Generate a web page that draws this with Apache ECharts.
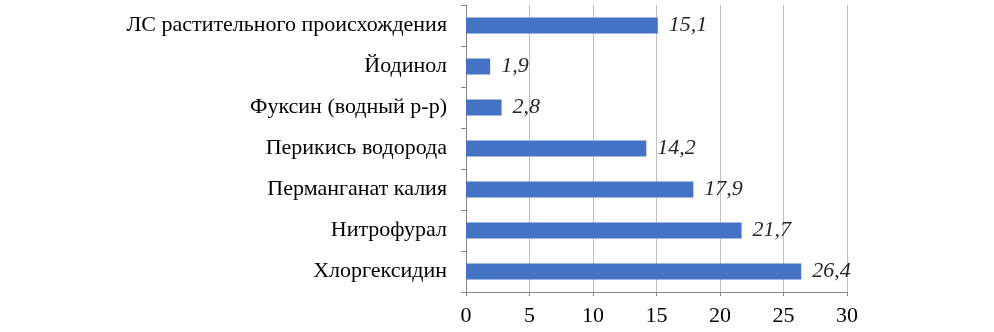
<!DOCTYPE html>
<html><head><meta charset="utf-8">
<script src="https://cdn.jsdelivr.net/npm/echarts@6/dist/echarts.min.js"></script>
<style>html,body{margin:0;padding:0;background:#fff}#c{width:994px;height:332px}</style>
</head><body><div id="c"></div>
<script>
const categories = ['Хлоргексидин','Нитрофурал','Перманганат калия','Перикись водорода','Фуксин (водный р-р)','Йодинол','ЛС растительного происхождения'];
const values = [26.4, 21.7, 17.9, 14.2, 2.8, 1.9, 15.1];
const xTicks = [0,5,10,15,20,25,30];
const chart = echarts.init(document.getElementById('c'), null, {renderer:'canvas'});
chart.setOption({
  animation:false,
  grid:{left:466,right:147,top:5,bottom:40,containLabel:false},
  xAxis:{type:'value',min:0,max:30,interval:5,
    axisLine:{show:true,lineStyle:{color:'#868686',width:1}},
    axisTick:{show:true,length:4,lineStyle:{color:'#868686'}},
    splitLine:{show:true,lineStyle:{color:'#bfbfbf',width:1}},
    axisLabel:{color:'#000',fontFamily:'Liberation Serif',fontSize:22,margin:13,
      formatter:v=>xTicks.includes(v)?String(v):''}},
  yAxis:{type:'category',data:categories,
    axisLine:{show:true,lineStyle:{color:'#868686',width:1}},
    axisTick:{show:true,length:5,lineStyle:{color:'#868686'}},
    axisLabel:{color:'#000',fontFamily:'Liberation Serif',fontSize:22,margin:19}},
  series:[{type:'bar',data:values,barWidth:16,
    itemStyle:{color:'#4472C4'},
    label:{show:true,position:'right',distance:11,color:'#262626',fontFamily:'Liberation Serif',fontStyle:'italic',fontSize:22,
      formatter:p=>String(p.value).replace('.',',')}}]
});
</script></body></html>
